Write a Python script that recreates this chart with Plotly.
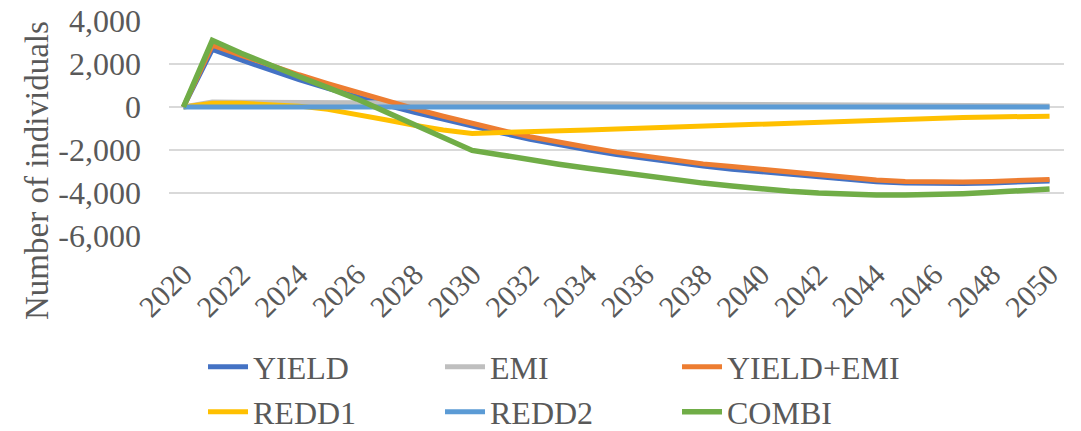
import plotly.graph_objects as go

years = list(range(2020, 2051))

yield_vals = [0, 2680, 2190, 1710, 1270, 870, 470, 100, -250, -580, -900,
              -1200, -1500, -1760, -1990, -2210, -2400, -2580, -2750, -2890, -3010,
              -3140, -3280, -3400, -3480, -3530, -3560, -3560, -3530, -3480, -3440]
emi_vals = [0, 230, 225, 220, 215, 210, 205, 200, 195, 190, 180,
            175, 170, 165, 160, 155, 150, 145, 140, 130, 125,
            120, 110, 105, 100, 90, 85, 75, 70, 60, 50]
yield_emi_vals = [0, 2880, 2400, 1930, 1500, 1090, 680, 290, -80, -430, -770,
                  -1080, -1385, -1645, -1875, -2100, -2290, -2475, -2645, -2770, -2900,
                  -3030, -3185, -3310, -3400, -3460, -3490, -3490, -3460, -3415, -3370]
redd1_vals = [0, 180, 170, 120, 40, -110, -330, -590, -850, -1070, -1230,
              -1200, -1160, -1115, -1065, -1020, -975, -925, -880, -835, -790,
              -725, -680, -630, -590, -555, -520, -490, -465, -445, -425]
redd2_vals = [0] * 31
combi_vals = [0, 3100, 2500, 1930, 1420, 900, 380, -220, -820, -1420, -2020,
              -2230, -2460, -2660, -2845, -3030, -3215, -3385, -3540, -3675, -3820,
              -3920, -4000, -4060, -4090, -4095, -4075, -4030, -3970, -3890, -3815]

series_names = ["YIELD", "EMI", "YIELD+EMI", "REDD1", "REDD2", "COMBI"]
series_vals = [yield_vals, emi_vals, yield_emi_vals, redd1_vals, redd2_vals, combi_vals]
series_colors = ["#4472C4", "#BFBFBF", "#ED7D31", "#FFC000", "#5B9BD5", "#70AD47"]
series_widths = [5, 5, 5, 5, 5, 5.5]
# legend rows: first three series on the top row, the rest below
series_legend = ["legend", "legend", "legend", "legend2", "legend2", "legend2"]

x_ticks = list(range(2020, 2051, 2))
y_ticks = [-6000, -4000, -2000, 0, 2000, 4000]
y_tick_labels = ["-6,000", "-4,000", "-2,000", "0", "2,000", "4,000"]

FONT = "Liberation Serif, Times New Roman, serif"
GREY = "#595959"

fig = go.Figure()
for name, vals, color, w, lg in zip(series_names, series_vals, series_colors,
                                    series_widths, series_legend):
    fig.add_trace(go.Scatter(x=years, y=vals, name=name, mode="lines",
                             line=dict(color=color, width=w), legend=lg))

legend_style = dict(orientation="h", xanchor="left", yanchor="middle",
                    font=dict(family=FONT, size=32, color=GREY),
                    entrywidth=182, itemwidth=40, bgcolor="rgba(0,0,0,0)")

fig.update_layout(
    width=1081, height=431,
    margin=dict(l=169, r=17, t=21, b=195, autoexpand=False),
    paper_bgcolor="white", plot_bgcolor="white",
    font=dict(family=FONT, size=32, color=GREY),
    showlegend=True,
    legend=dict(x=0.038, y=(236 - 367) / 215, **legend_style),
    legend2=dict(x=0.038, y=(236 - 412) / 215, **legend_style),
)

fig.update_xaxes(range=[2019.5, 2050.5], tickvals=x_ticks, tickangle=-45,
                 showgrid=False, zeroline=False, showline=False, ticks="",
                 automargin=False, ticklabelstandoff=14,
                 tickfont=dict(family=FONT, size=30, color=GREY))
fig.update_yaxes(range=[-6000, 4000], tickvals=y_ticks, ticktext=y_tick_labels,
                 showgrid=True, gridcolor="#D9D9D9", gridwidth=1.5,
                 zeroline=False, showline=False, ticks="", ticklabelstandoff=27,
                 automargin=False,
                 tickfont=dict(family=FONT, size=32, color=GREY))

fig.add_annotation(text="Number of individuals", textangle=-90,
                   xref="paper", yref="paper", x=(37 - 169) / 895, y=(236 - 171) / 215,
                   xanchor="center", yanchor="middle", showarrow=False,
                   font=dict(family=FONT, size=33, color=GREY))

fig.write_html("out.html")
